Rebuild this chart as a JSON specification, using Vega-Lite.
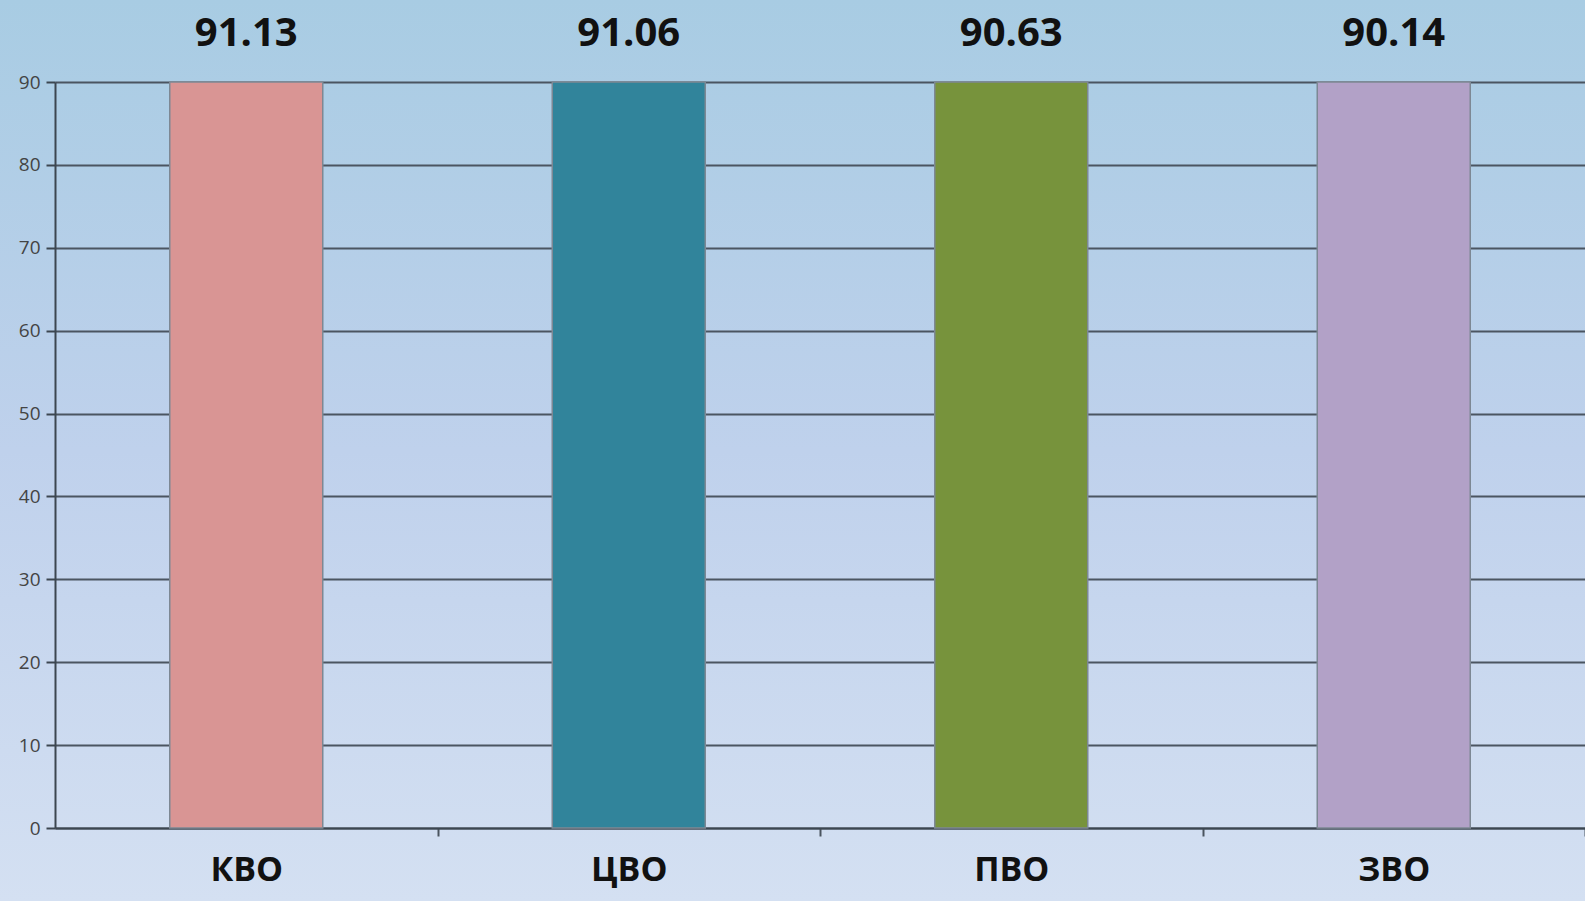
{
  "$schema": "https://vega.github.io/schema/vega-lite/v6.json",
  "width": 1585,
  "height": 901,
  "autosize": "none",
  "padding": 0,
  "background": "#bcd4ea",
  "data": {
    "values": [
      {"okrug": "КВО", "value": 91.13},
      {"okrug": "ЦВО", "value": 91.06},
      {"okrug": "ПВО", "value": 90.63},
      {"okrug": "ЗВО", "value": 90.14}
    ]
  },
  "encoding": {
    "x": {
      "field": "okrug",
      "type": "nominal",
      "sort": null,
      "title": null,
      "scale": {"range": [55, 1585], "paddingInner": 0.6, "paddingOuter": 0.3},
      "axis": {
        "offset": -73,
        "labelAngle": 0,
        "labelFont": "Open Sans",
        "labelFontSize": 34,
        "labelFontWeight": "bold",
        "labelColor": "#111111",
        "labelPadding": 17,
        "tickOffset": 191.25,
        "labelOffset": -191.25,
        "tickSize": 8,
        "tickWidth": 2,
        "tickColor": "#4a545f",
        "domainColor": "#3c4650",
        "domainWidth": 2
      }
    }
  },
  "layer": [
    {
      "mark": {"type": "bar", "stroke": "#7d8894", "strokeWidth": 1.5},
      "encoding": {
        "y": {
          "field": "value",
          "type": "quantitative",
          "title": null,
          "scale": {"domain": [0, 90], "nice": false, "clamp": true, "range": [828, 82]},
          "axis": {
            "offset": -55,
            "values": [0, 10, 20, 30, 40, 50, 60, 70, 80, 90],
            "grid": true,
            "gridColor": "#4b5561",
            "gridWidth": 2,
            "domainColor": "#3c4650",
            "domainWidth": 2,
            "tickColor": "#3c4650",
            "tickWidth": 2,
            "tickSize": 9,
            "labelFont": "Open Sans",
            "labelFontSize": 19,
            "labelColor": "#444444",
            "labelPadding": 6
          }
        },
        "color": {
          "field": "okrug",
          "type": "nominal",
          "sort": null,
          "legend": null,
          "scale": {
            "domain": ["КВО", "ЦВО", "ПВО", "ЗВО"],
            "range": ["#d99594", "#31849b", "#77933c", "#b2a1c7"]
          }
        }
      }
    },
    {
      "mark": {
        "type": "text",
        "font": "Open Sans",
        "fontSize": 40,
        "fontWeight": "bold",
        "color": "#111111",
        "dy": -48
      },
      "encoding": {
        "y": {"datum": 90},
        "text": {"field": "value", "type": "quantitative", "format": ".2f"}
      }
    }
  ],
  "config": {
    "view": {
      "stroke": null,
      "fill": {
        "gradient": "linear",
        "x1": 0, "y1": 0, "x2": 0, "y2": 1,
        "stops": [
          {"offset": 0, "color": "#a8cce3"},
          {"offset": 0.5, "color": "#bfd1ec"},
          {"offset": 1, "color": "#d4e0f2"}
        ]
      }
    }
  }
}
